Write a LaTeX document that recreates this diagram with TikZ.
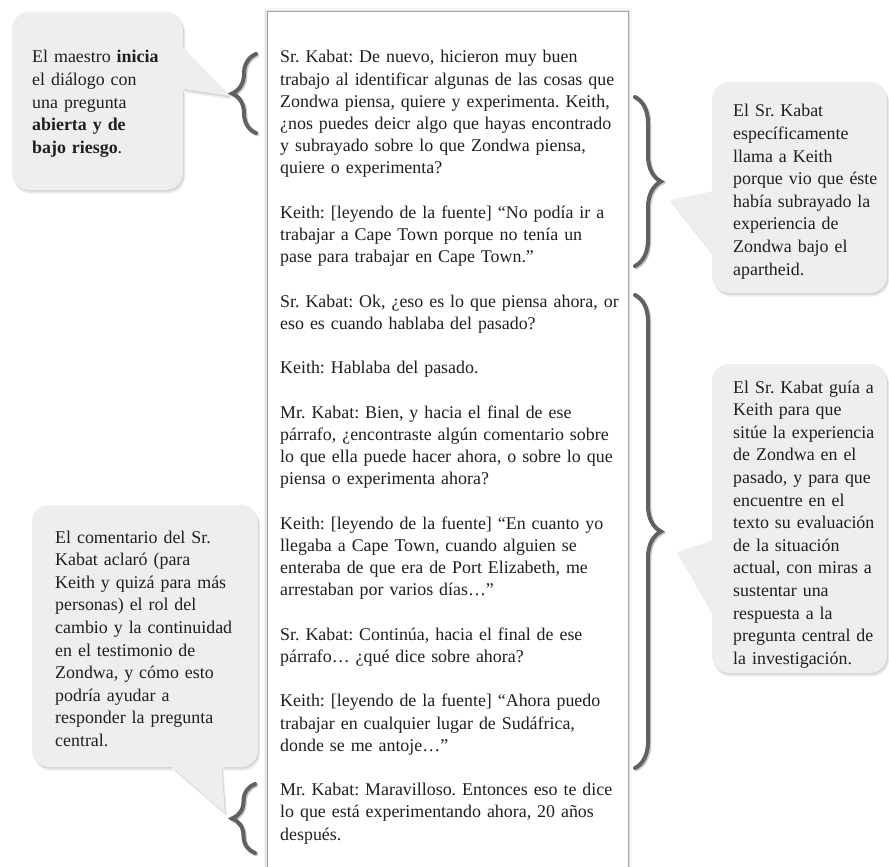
\documentclass[tikz,border=0pt]{standalone}
\usepackage{fontspec}
\setmainfont{Liberation Serif}
\usetikzlibrary{decorations.pathreplacing}
\newcommand\bubA{(12,12) [rounded corners=17pt] rectangle (183,190) [sharp corners] (176,40) -- (230,96) -- (176,88) -- cycle}
\newcommand\bubB{(712,82) [rounded corners=17pt] rectangle (887,293) [sharp corners] (719,190) -- (719,262) -- (670,200) -- cycle}
\newcommand\bubC{(712,364) [rounded corners=17pt] rectangle (887,673) [sharp corners] (719,538) -- (719,625) -- (677,552) -- cycle}
\newcommand\bubD{(32,505) [rounded corners=17pt] rectangle (258,767) [sharp corners] (164,760) -- (221,760) -- (225,813) -- cycle}
\begin{document}
\frenchspacing
\begin{tikzpicture}[x=1pt,y=-1pt,
  txt/.style={anchor=base west, inner sep=0pt, align=left, text=black!88, text width=350pt,
              font=\fontsize{17.9}{22.2}\selectfont},
  note/.style={anchor=base west, inner sep=0pt, align=left, text=black!88,
              font=\fontsize{17.9}{22.6}\selectfont},
  shadowfar/.style={fill=black!8},
  shadownear/.style={fill=black!17},
  bubblefill/.style={fill=black!6.5},
  bracestyle/.style={decorate, decoration={brace, amplitude=#1}, line width=4pt, line cap=round},
]
\useasboundingbox (0,0) rectangle (889,867);
\clip (0,0) rectangle (889,867);

% ---------- central transcript box ----------
\draw[line width=7pt, black!4] (267,12) rectangle (628,900);
\draw[line width=3.5pt, black!10] (267,12) rectangle (628,900);
\fill[white] (267,12) rectangle (628,900);
\draw[line width=1pt, black!36] (267,12) rectangle (628,900);

\node[txt] (p1) at (280,63.0) {Sr. Kabat: De nuevo, hicieron muy buen\\
trabajo al identificar algunas de las cosas que\\
Zondwa piensa, quiere y experimenta. Keith,\\
¿nos puedes deicr algo que hayas encontrado\\
y subrayado sobre lo que Zondwa piensa,\\
quiere o experimenta?};
\node[txt] (p2) at (280,218.4) {Keith: [leyendo de la fuente] “No podía ir a\\
trabajar a Cape Town porque no tenía un\\
pase para trabajar en Cape Town.”};
\node[txt] (p3) at (280,307.2) {Sr. Kabat: Ok, ¿eso es lo que piensa ahora, or\\
eso es cuando hablaba del pasado?};
\node[txt] (p4) at (280,373.8) {Keith: Hablaba del pasado.};
\node[txt] (p5) at (280,418.2) {Mr. Kabat: Bien, y hacia el final de ese\\
párrafo, ¿encontraste algún comentario sobre\\
lo que ella puede hacer ahora, o sobre lo que\\
piensa o experimenta ahora?};
\node[txt] (p6) at (280,529.2) {Keith: [leyendo de la fuente] “En cuanto yo\\
llegaba a Cape Town, cuando alguien se\\
enteraba de que era de Port Elizabeth, me\\
arrestaban por varios días…”};
\node[txt] (p7) at (280,640.2) {Sr. Kabat: Continúa, hacia el final de ese\\
párrafo… ¿qué dice sobre ahora?};
\node[txt] (p8) at (280,706.8) {Keith: [leyendo de la fuente] “Ahora puedo\\
trabajar en cualquier lugar de Sudáfrica,\\
donde se me antoje…”};
\node[txt] (p9) at (280,795.6) {Mr. Kabat: Maravilloso. Entonces eso te dice\\
lo que está experimentando ahora, 20 años\\
después.};

% ---------- callout bubbles ----------
\begin{scope}[xshift=2pt,yshift=-3.5pt]
  \fill[shadowfar] \bubA; \fill[shadowfar] \bubB; \fill[shadowfar] \bubC; \fill[shadowfar] \bubD;
\end{scope}
\begin{scope}[xshift=1pt,yshift=-1.5pt]
  \fill[shadownear] \bubA; \fill[shadownear] \bubB; \fill[shadownear] \bubC; \fill[shadownear] \bubD;
\end{scope}
\fill[bubblefill] (12,12) [rounded corners=17pt] rectangle (183,190);
\fill[bubblefill] (176,40) -- (230,96) -- (176,88) -- cycle;
\fill[bubblefill] (712,82) [rounded corners=17pt] rectangle (887,293);
\fill[bubblefill] (719,190) -- (719,262) -- (670,200) -- cycle;
\fill[bubblefill] (712,364) [rounded corners=17pt] rectangle (887,673);
\fill[bubblefill] (719,538) -- (719,625) -- (677,552) -- cycle;
\fill[bubblefill] (32,505) [rounded corners=17pt] rectangle (258,767);
\fill[bubblefill] (164,760) -- (221,760) -- (225,813) -- cycle;

\node[note, text width=155pt] (c1) at (32,63) {El maestro \textbf{inicia}\\
el diálogo con\\
una pregunta\\
\textbf{abierta y de}\\
\textbf{bajo riesgo}.};
\node[note, text width=160pt] (c2) at (733,117) {El Sr. Kabat\\
específicamente\\
llama a Keith\\
porque vio que éste\\
había subrayado la\\
experiencia de\\
Zondwa bajo el\\
apartheid.};
\node[note, text width=160pt] (c3) at (733,393) {El Sr. Kabat guía a\\
Keith para que\\
sitúe la experiencia\\
de Zondwa en el\\
pasado, y para que\\
encuentre en el\\
texto su evaluación\\
de la situación\\
actual, con miras a\\
sustentar una\\
respuesta a la\\
pregunta central de\\
la investigación.};
\node[note, text width=200pt] (c4) at (55,543) {El comentario del Sr.\\
Kabat aclaró (para\\
Keith y quizá para más\\
personas) el rol del\\
cambio y la continuidad\\
en el testimonio de\\
Zondwa, y cómo esto\\
podría ayudar a\\
responder la pregunta\\
central.};

% ---------- braces ----------
\coordinate (b1s) at (256,133); \coordinate (b1e) at (256,54);
\coordinate (b2s) at (635,97);  \coordinate (b2e) at (635,266);
\coordinate (b3s) at (635,295); \coordinate (b3e) at (635,768);
\coordinate (b4s) at (255,853); \coordinate (b4e) at (255,784);
\begin{scope}[transform canvas={xshift=1.3pt,yshift=-1.3pt}]
  \draw[bracestyle=24pt, draw=black!22] (b1s) -- (b1e);
  \draw[bracestyle=26pt, draw=black!22] (b2s) -- (b2e);
  \draw[bracestyle=26pt, draw=black!22] (b3s) -- (b3e);
  \draw[bracestyle=23pt, draw=black!22] (b4s) -- (b4e);
\end{scope}
\draw[bracestyle=24pt, draw=black!62] (b1s) -- (b1e);
\draw[bracestyle=26pt, draw=black!62] (b2s) -- (b2e);
\draw[bracestyle=26pt, draw=black!62] (b3s) -- (b3e);
\draw[bracestyle=23pt, draw=black!62] (b4s) -- (b4e);
\end{tikzpicture}
\end{document}
